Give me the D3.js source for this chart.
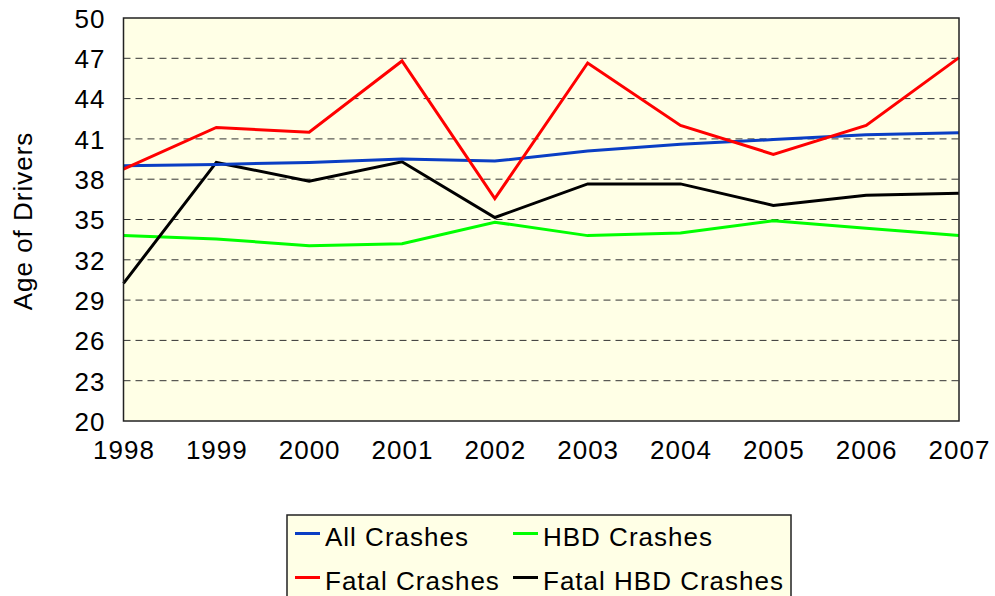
<!DOCTYPE html>
<html>
<head>
<meta charset="utf-8">
<script src="https://cdn.jsdelivr.net/npm/d3@7"></script>
<style>
  body { margin: 0; background: #fff; }
  svg text { font-family: "Liberation Sans", Arial, sans-serif; font-size: 26px; letter-spacing: 1px; fill: #000; }
</style>
</head>
<body>
<svg id="chart" width="995" height="596"></svg>
<script>
var years = [1998, 1999, 2000, 2001, 2002, 2003, 2004, 2005, 2006, 2007];
var allCrashes = [39.0, 39.1, 39.25, 39.5, 39.35, 40.1, 40.6, 40.95, 41.3, 41.45];
var fatalCrashes = [38.75, 41.85, 41.5, 46.8, 36.55, 46.65, 42.0, 39.85, 42.0, 47.05];
var hbdCrashes = [33.8, 33.55, 33.05, 33.2, 34.8, 33.8, 34.0, 34.9, 34.35, 33.8];
var fatalHbdCrashes = [30.25, 39.25, 37.85, 39.3, 35.15, 37.65, 37.65, 36.05, 36.8, 36.95];
var yTicks = [20, 23, 26, 29, 32, 35, 38, 41, 44, 47, 50];

var series = [
	{name: "All Crashes", values: allCrashes, color: "#0a3ec4"},
	{name: "HBD Crashes", values: hbdCrashes, color: "#00ff00"},
	{name: "Fatal Crashes", values: fatalCrashes, color: "#ff0000"},
	{name: "Fatal HBD Crashes", values: fatalHbdCrashes, color: "#000000"}
];

var svg = d3.select("#chart");
var plotLeft = 123.5, plotRight = 959, plotTop = 18, plotBottom = 421;

var x = d3.scaleLinear().domain([1998, 2007]).range([plotLeft, plotRight]);
var y = d3.scaleLinear().domain([20, 50]).range([plotBottom, plotTop]);

// plot background
svg.append("rect").attr("x", plotLeft).attr("y", plotTop)
	.attr("width", plotRight - plotLeft).attr("height", plotBottom - plotTop)
	.attr("fill", "#ffffe6");

// dashed grid lines
svg.append("g").selectAll("line")
	.data(yTicks.filter(function(d) { return d > 20 && d < 50; }))
	.enter().append("line")
	.attr("x1", plotLeft).attr("x2", plotRight)
	.attr("y1", function(d) { return y(d); }).attr("y2", function(d) { return y(d); })
	.attr("stroke", "#333").attr("stroke-width", 1).attr("stroke-dasharray", "7,5");

// y axis labels
var yAxis = d3.axisLeft(y).tickValues(yTicks).tickSize(0).tickPadding(18);
var gy = svg.append("g").attr("transform", "translate(" + plotLeft + ",0)").call(yAxis);
gy.select(".domain").remove();
gy.selectAll("text").attr("font-size", null).attr("font-family", null).attr("dy", "0.36em");

// x axis labels
var xAxis = d3.axisBottom(x).tickValues(years).tickFormat(d3.format("d")).tickSize(0).tickPadding(20);
var gx = svg.append("g").attr("transform", "translate(0," + plotBottom + ")").call(xAxis);
gx.select(".domain").remove();
gx.selectAll("text").attr("font-size", null).attr("font-family", null).attr("dy", "0.71em");

// lines
var line = d3.line()
	.x(function(d, i) { return x(years[i]); })
	.y(function(d) { return y(d); });

var drawOrder = [series[1], series[3], series[0], series[2]];
svg.append("g").selectAll("path")
	.data(drawOrder)
	.enter().append("path")
	.attr("d", function(s) { return line(s.values); })
	.attr("fill", "none")
	.attr("stroke", function(s) { return s.color; })
	.attr("stroke-width", 3)
	.attr("stroke-linejoin", "miter");

// plot border
svg.append("rect").attr("x", plotLeft).attr("y", plotTop)
	.attr("width", plotRight - plotLeft).attr("height", plotBottom - plotTop)
	.attr("fill", "none").attr("stroke", "#222").attr("stroke-width", 1.5);

// y axis title
svg.append("text")
	.attr("transform", "translate(32,221) rotate(-90)")
	.attr("text-anchor", "middle")
	.text("Age of Drivers");

// legend
var legend = svg.append("g");
legend.append("rect").attr("x", 287).attr("y", 515)
	.attr("width", 504).attr("height", 100)
	.attr("fill", "#ffffe6").attr("stroke", "#222").attr("stroke-width", 1.5);

var legendPos = [[295, 533.5], [513, 533.5], [295, 577.5], [513, 577.5]];
series.forEach(function(s, i) {
	var p = legendPos[i];
	legend.append("line")
		.attr("x1", p[0]).attr("x2", p[0] + 25)
		.attr("y1", p[1]).attr("y2", p[1])
		.attr("stroke", s.color).attr("stroke-width", 3);
	legend.append("text")
		.attr("x", p[0] + 30).attr("y", p[1] + 12)
		.text(s.name);
});
</script>
</body>
</html>
